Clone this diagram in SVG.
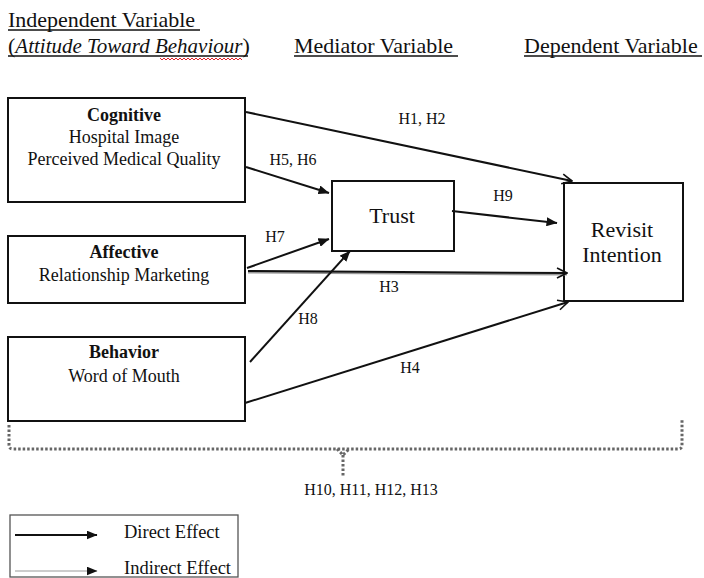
<svg xmlns="http://www.w3.org/2000/svg" width="704" height="578" viewBox="0 0 704 578">
<style>
.hdr{font-family:'Liberation Serif',serif;font-size:22px;fill:#111}
.box{fill:#fff;stroke:#111;stroke-width:2}
.bt{font-family:'Liberation Serif',serif;font-size:18px;text-anchor:middle;fill:#111}
.bb{font-family:'Liberation Serif',serif;font-size:18px;text-anchor:middle;font-weight:bold;fill:#111}
.big{font-family:'Liberation Serif',serif;font-size:22px;text-anchor:middle;fill:#111}
.lbl{font-family:'Liberation Serif',serif;font-size:16px;text-anchor:middle;fill:#111}
.lg{font-family:'Liberation Serif',serif;font-size:18.5px;fill:#111}
.ul{stroke:#111;stroke-width:1.3}
.c{fill:none;stroke:#111;stroke-width:2}
.dot{fill:none;stroke:#666;stroke-width:3;stroke-dasharray:2.5 2}
</style>
<defs>
<marker id="fa" viewBox="0 0 11 9" refX="10.5" refY="4.5" markerWidth="11" markerHeight="9" markerUnits="userSpaceOnUse" orient="auto"><path d="M0,0 L11,4.5 L0,9 z" fill="#111"/></marker>
<marker id="oa" viewBox="0 0 12 12" refX="11" refY="6" markerWidth="12" markerHeight="12" markerUnits="userSpaceOnUse" orient="auto"><path d="M1,1 L11,6 L1,11" fill="none" stroke="#111" stroke-width="1.6"/></marker>
</defs>
<g id="headers">
<text class="hdr" x="8" y="27">Independent Variable</text>
<line class="ul" x1="8" y1="30" x2="200" y2="30"/>
<text class="hdr" x="8" y="53">(<tspan font-style="italic" font-size="21">Attitude Toward Behaviour</tspan>)</text>
<line class="ul" x1="8" y1="56" x2="248" y2="56"/>
<polyline points="160,58 162,60 164,58 166,60 168,58 170,60 172,58 174,60 176,58 178,60 180,58 182,60 184,58 186,60 188,58 190,60 192,58 194,60 196,58 198,60 200,58 202,60 204,58 206,60 208,58 210,60 212,58 214,60 216,58 218,60 220,58 222,60 224,58 226,60 228,58 230,60 232,58 234,60 236,58 238,60 240,58 242,60" fill="none" stroke="#e0202a" stroke-width="1"/>
<text class="hdr" x="294" y="53">Mediator Variable</text>
<line class="ul" x1="294" y1="56" x2="458" y2="56"/>
<text class="hdr" x="524" y="53">Dependent Variable</text>
<line class="ul" x1="524" y1="56" x2="702" y2="56"/>
</g>
<g id="cognitive">
<rect class="box" x="8" y="98" width="237" height="104"/>
<text class="bb" x="124" y="121">Cognitive</text>
<text class="bt" x="124" y="143">Hospital Image</text>
<text class="bt" x="124" y="165">Perceived Medical Quality</text>
</g>
<g id="affective">
<rect class="box" x="8" y="236" width="237" height="67"/>
<text class="bb" x="124" y="258">Affective</text>
<text class="bt" x="124" y="281">Relationship Marketing</text>
</g>
<g id="behavior">
<rect class="box" x="8" y="337" width="237" height="84"/>
<text class="bb" x="124" y="358">Behavior</text>
<text class="bt" x="124" y="382">Word of Mouth</text>
</g>
<g id="trust">
<rect class="box" x="332" y="181" width="122" height="70"/>
<text class="big" x="392" y="223" font-size="21">Trust</text>
</g>
<g id="revisit">
<rect class="box" x="564" y="183" width="119" height="118"/>
<text class="big" x="622" y="237">Revisit</text>
<text class="big" x="622" y="262">Intention</text>
</g>
<g id="connectors">
<path class="c" d="M246,112 L572,181" marker-end="url(#oa)"/>
<path class="c" d="M246,167 L329,193" marker-end="url(#fa)"/>
<path class="c" d="M452,211 L557,223" marker-end="url(#fa)"/>
<path class="c" d="M247,268 L329,239" marker-end="url(#fa)"/>
<path d="M248,272.5 L567,274.5" fill="none" stroke="#999" stroke-width="2"/>
<path class="c" d="M248,271 L567,273" marker-end="url(#oa)"/>
<path class="c" d="M250,362 L350,251" marker-end="url(#fa)"/>
<path class="c" d="M245,403 L568,302" marker-end="url(#oa)"/>
<path class="dot" d="M9,425 L9,445 Q9,449 13,449 L678,449 Q682,449 682,445 L682,420"/>
<path class="dot" d="M337,449 L343,455 L349,449 M343,455 L343,476"/>
</g>
<g id="labels">
<text class="lbl" x="422" y="124">H1, H2</text>
<text class="lbl" x="293" y="165">H5, H6</text>
<text class="lbl" x="503" y="201">H9</text>
<text class="lbl" x="275" y="242">H7</text>
<text class="lbl" x="389" y="292">H3</text>
<text class="lbl" x="308" y="324">H8</text>
<text class="lbl" x="410" y="373">H4</text>
<text class="lbl" x="371" y="495" font-size="17">H10, H11, H12, H13</text>
</g>
<g id="legend">
<rect x="10" y="515" width="228" height="62" fill="#fff" stroke="#555" stroke-width="1.3"/>
<path d="M15,535 L97,535" fill="none" stroke="#111" stroke-width="2" marker-end="url(#fa)"/>
<text class="lg" x="124" y="538">Direct Effect</text>
<path d="M15,571 L97,571" fill="none" stroke="#999" stroke-width="1.2" marker-end="url(#fa)"/>
<text class="lg" x="124" y="574">Indirect Effect</text>
</g>
</svg>
